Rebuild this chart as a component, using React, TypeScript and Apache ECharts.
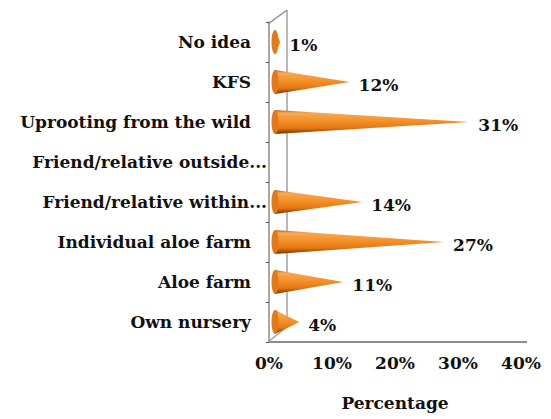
import React, { useEffect, useRef } from "react";
import * as echarts from "echarts";

const categories = [
  "No idea",
  "KFS",
  "Uprooting from the wild",
  "Friend/relative outside...",
  "Friend/relative within...",
  "Individual aloe farm",
  "Aloe farm",
  "Own nursery",
];
const truncated = [false, false, false, true, true, false, false, false];
const values: (number | null)[] = [1, 12, 31, null, 14, 27, 11, 4];
const xTicks = [0, 10, 20, 30, 40];

const FONT = "DejaVu Serif";

export default function App() {
  const ref = useRef<HTMLDivElement>(null);
  useEffect(() => {
    if (!ref.current) return;
    const chart = echarts.init(ref.current, undefined, { renderer: "svg" });
    const grad = new echarts.graphic.LinearGradient(0, 0, 0, 1, [
      { offset: 0, color: "#b85a0c" },
      { offset: 0.12, color: "#f6a858" },
      { offset: 0.4, color: "#f5952e" },
      { offset: 0.75, color: "#e67812" },
      { offset: 1, color: "#6e3300" },
    ]);
    chart.setOption({
      animation: false,
      grid: { left: 269, width: 252, top: 22, height: 320 },
      graphic: [
        { type: "line", z: 1, shape: { x1: 268, y1: 24, x2: 287, y2: 10 }, style: { stroke: "#8c8c8c", lineWidth: 1.5 } },
        { type: "line", z: 1, shape: { x1: 287, y1: 10, x2: 287, y2: 326 }, style: { stroke: "#a0a0a0", lineWidth: 1.5 } },
        { type: "line", z: 1, shape: { x1: 268, y1: 342, x2: 288, y2: 326 }, style: { stroke: "#a0a0a0", lineWidth: 1.5 } },
        { type: "line", z: 1, shape: { x1: 520, y1: 342, x2: 527, y2: 342 }, style: { stroke: "#8c8c8c", lineWidth: 2 } },
      ],
      xAxis: {
        type: "value",
        min: 0,
        max: 40,
        interval: 10,
        axisLine: { show: true, lineStyle: { color: "#8c8c8c", width: 2 } },
        axisTick: { show: false },
        splitLine: { show: false },
        axisLabel: {
          formatter: (v: number) => (xTicks.includes(v) ? v + "%" : ""),
          fontFamily: FONT,
          fontWeight: "bold",
          fontSize: 17,
          color: "#111",
          margin: 12,
        },
        name: "Percentage",
        nameLocation: "middle",
        nameGap: 52,
        nameTextStyle: { fontFamily: FONT, fontWeight: "bold", fontSize: 17, color: "#111" },
      },
      yAxis: {
        type: "category",
        data: categories,
        inverse: true,
        axisLine: { show: true, lineStyle: { color: "#8c8c8c", width: 1.5 } },
        axisTick: { show: true, length: 3, lineStyle: { color: "#555" } },
        axisLabel: {
          margin: 2,
          formatter: (v: string, i: number) => (truncated[i] ? "{t|" + v + "}" : "{n|" + v + "}"),
          rich: {
            n: { fontFamily: FONT, fontWeight: "bold", fontSize: 17, color: "#111", padding: [0, 16, 0, 0] },
            t: { fontFamily: FONT, fontWeight: "bold", fontSize: 17, color: "#111" },
          },
        },
      },
      series: [
        {
          type: "custom",
          z: 5,
          data: values.map((v, i) => [v, i]),
          renderItem: (params: any, api: any) => {
            const v = api.value(0);
            if (v === null || v === undefined || isNaN(v)) return null;
            const idx = api.value(1);
            const base = api.coord([0, idx]);
            const tip = api.coord([v, idx]);
            const x0 = base[0] + 6;
            const x1 = tip[0] + 5;
            const cy = base[1];
            const h = 12;
            return {
              type: "group",
              children: [
                {
                  type: "polygon",
                  shape: { points: [[x0, cy - h], [x1, cy], [x0, cy + h]] },
                  style: { fill: grad },
                },
                {
                  type: "ellipse",
                  shape: { cx: x0, cy: cy, rx: 3.5, ry: h },
                  style: { fill: "#e27a18" },
                },
                {
                  type: "text",
                  style: {
                    x: x1 + 9,
                    y: cy + 3,
                    text: v + "%",
                    fontFamily: FONT,
                    fontWeight: "bold",
                    fontSize: 17,
                    fill: "#111",
                    verticalAlign: "middle",
                  },
                },
              ],
            };
          },
        },
      ],
    });
    return () => chart.dispose();
  }, []);
  return <div ref={ref} style={{ width: 551, height: 419, position: "absolute", left: 0, top: 0 }} />;
}
